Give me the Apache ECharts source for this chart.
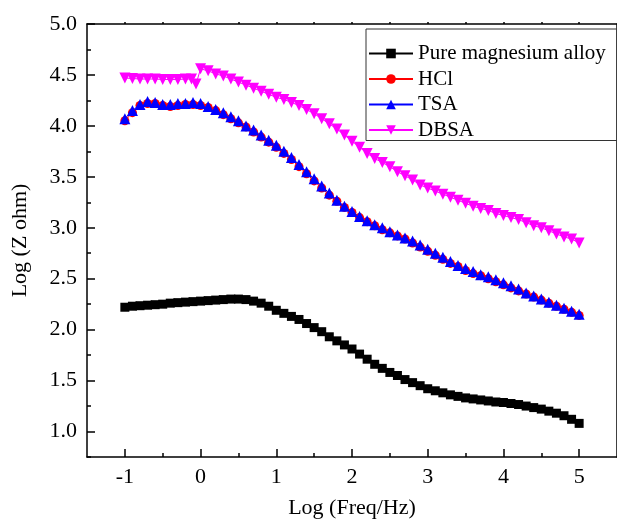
<!DOCTYPE html>
<html><head><meta charset="utf-8">
<script src="https://cdn.jsdelivr.net/npm/echarts@6/dist/echarts.min.js"></script>
<style>html,body{margin:0;padding:0;background:#fff}#c{width:617px;height:524px}</style>
</head><body><div id="c"></div>
<script>
const freq = [-1.0,-0.9,-0.8,-0.7,-0.6,-0.5,-0.4,-0.3,-0.2,-0.1,0.0,0.1,0.2,0.3,0.4,0.5,0.6,0.7,0.8,0.9,1.0,1.1,1.2,1.3,1.4,1.5,1.6,1.7,1.8,1.9,2.0,2.1,2.2,2.3,2.4,2.5,2.6,2.7,2.8,2.9,3.0,3.1,3.2,3.3,3.4,3.5,3.6,3.7,3.8,3.9,4.0,4.1,4.2,4.3,4.4,4.5,4.6,4.7,4.8,4.9,5.0];
const pureMg = [2.22,2.23,2.235,2.24,2.245,2.25,2.26,2.265,2.27,2.275,2.28,2.285,2.29,2.295,2.30,2.30,2.295,2.28,2.26,2.23,2.19,2.16,2.13,2.10,2.06,2.02,1.98,1.93,1.89,1.85,1.81,1.76,1.71,1.66,1.62,1.58,1.55,1.51,1.48,1.45,1.42,1.40,1.38,1.36,1.345,1.33,1.32,1.31,1.30,1.29,1.285,1.275,1.265,1.25,1.235,1.22,1.20,1.18,1.155,1.12,1.08];
const hcl = [4.05,4.13,4.20,4.22,4.22,4.20,4.19,4.20,4.21,4.21,4.20,4.18,4.15,4.11,4.07,4.03,3.99,3.94,3.89,3.84,3.79,3.73,3.67,3.60,3.53,3.46,3.39,3.32,3.26,3.20,3.15,3.10,3.06,3.02,2.98,2.95,2.92,2.89,2.85,2.81,2.77,2.73,2.69,2.65,2.62,2.58,2.55,2.53,2.50,2.47,2.44,2.41,2.38,2.35,2.32,2.29,2.26,2.23,2.20,2.17,2.14];
const tsa = [4.07,4.15,4.21,4.24,4.23,4.21,4.21,4.22,4.22,4.23,4.22,4.19,4.16,4.13,4.09,4.05,4.00,3.96,3.91,3.86,3.81,3.75,3.69,3.62,3.55,3.48,3.41,3.34,3.27,3.21,3.16,3.11,3.07,3.03,3.00,2.96,2.93,2.90,2.87,2.83,2.79,2.75,2.71,2.67,2.63,2.60,2.57,2.54,2.52,2.49,2.46,2.43,2.40,2.36,2.33,2.30,2.27,2.24,2.21,2.18,2.15];
const dbsaFreq = [-1.0,-0.9,-0.8,-0.7,-0.6,-0.5,-0.4,-0.3,-0.2,-0.12,-0.06,0.0,0.1,0.2,0.3,0.4,0.5,0.6,0.7,0.8,0.9,1.0,1.1,1.2,1.3,1.4,1.5,1.6,1.7,1.8,1.9,2.0,2.1,2.2,2.3,2.4,2.5,2.6,2.7,2.8,2.9,3.0,3.1,3.2,3.3,3.4,3.5,3.6,3.7,3.8,3.9,4.0,4.1,4.2,4.3,4.4,4.5,4.6,4.7,4.8,4.9,5.0];
const dbsa = [4.47,4.465,4.46,4.46,4.46,4.455,4.455,4.455,4.46,4.46,4.41,4.56,4.54,4.51,4.49,4.46,4.43,4.40,4.37,4.34,4.31,4.28,4.26,4.23,4.20,4.16,4.12,4.07,4.02,3.97,3.91,3.85,3.79,3.73,3.68,3.64,3.60,3.55,3.51,3.47,3.42,3.39,3.36,3.33,3.30,3.27,3.24,3.21,3.19,3.17,3.14,3.12,3.10,3.08,3.05,3.02,3.00,2.97,2.94,2.91,2.89,2.85];
const xMajor = [-1,0,1,2,3,4,5];
const xMinor = [-0.5,0.5,1.5,2.5,3.5,4.5];
const yMajor = [1.0,1.5,2.0,2.5,3.0,3.5,4.0,4.5,5.0];
const yMinor = [0.75,1.25,1.75,2.25,2.75,3.25,3.75,4.25,4.75];
const names = ['Pure magnesium alloy','HCl','TSA','DBSA'];

const FONT = '"Liberation Serif", "Times New Roman", serif';
const pair = (xs, ys) => xs.map((x, i) => [x, ys[i]]);
const ax = {color:'#000', width:1.5};
const lbl = {fontFamily:FONT, fontSize:22, color:'#000', fontWeight:'normal'};
const chart = echarts.init(document.getElementById('c'), null, {renderer:'canvas'});
const baseX = {type:'value', min:-1.5, max:5.5, splitLine:{show:false}, axisLine:{onZero:false, lineStyle:ax}};
const baseY = {type:'value', min:0.75, max:5.0, splitLine:{show:false}, axisLine:{onZero:false, lineStyle:ax}};
chart.setOption({
  animation:false,
  backgroundColor:'#fff',
  textStyle:{fontFamily:FONT},
  grid:{left:87, top:24, right:-6, bottom:67},
  xAxis:[
    Object.assign({}, baseX, {position:'bottom',
      name:'Log (Freq/Hz)', nameLocation:'middle', nameGap:40,
      nameTextStyle:lbl,
      axisTick:{inside:true, length:8, lineStyle:ax, customValues:xMajor},
      axisLabel:Object.assign({customValues:xMajor, margin:9, formatter:v=>String(v)}, lbl)}),
    Object.assign({}, baseX, {position:'bottom', axisLine:{show:false, onZero:false},
      axisTick:{inside:true, length:4, lineStyle:ax, customValues:xMinor},
      axisLabel:{show:false}}),
    Object.assign({}, baseX, {position:'top',
      axisTick:{inside:false, length:2, lineStyle:ax, customValues:xMajor.concat(xMinor)},
      axisLabel:{show:false}})
  ],
  yAxis:[
    Object.assign({}, baseY, {position:'left',
      name:'Log (Z ohm)', nameLocation:'middle', nameGap:56, nameRotate:90,
      nameTextStyle:lbl,
      axisTick:{inside:true, length:8, lineStyle:ax, customValues:yMajor},
      axisLabel:Object.assign({customValues:yMajor, margin:10, formatter:v=>v.toFixed(1)}, lbl)}),
    Object.assign({}, baseY, {position:'left', axisLine:{show:false, onZero:false},
      axisTick:{inside:true, length:4, lineStyle:ax, customValues:yMinor},
      axisLabel:{show:false}}),
    Object.assign({}, baseY, {position:'right',
      axisTick:{show:false}, axisLabel:{show:false}})
  ],
  legend:{
    left:366, top:29, orient:'vertical',
    data:names,
    itemWidth:44, itemHeight:12, itemGap:4.5,
    padding:[14,30,0,2],
    borderColor:'#333', borderWidth:1,
    textStyle:{fontFamily:FONT, fontSize:21, color:'#000', lineHeight:20}
  },
  series:[
    {name:names[0], type:'line', data:pair(freq, pureMg), symbol:'rect', symbolSize:9,
      itemStyle:{color:'#000'}, lineStyle:{color:'#000', width:1}},
    {name:names[1], type:'line', data:pair(freq, hcl), symbol:'circle', symbolSize:9,
      itemStyle:{color:'#ff0000'}, lineStyle:{color:'#ff0000', width:1}},
    {name:names[2], type:'line', data:pair(freq, tsa), symbol:'triangle', symbolSize:11,
      itemStyle:{color:'#0000ff'}, lineStyle:{color:'#0000ff', width:1}},
    {name:names[3], type:'line', data:pair(dbsaFreq, dbsa), symbol:'triangle', symbolRotate:180, symbolSize:11,
      itemStyle:{color:'#ff00ff'}, lineStyle:{color:'#ff00ff', width:1}}
  ]
});
</script></body></html>
